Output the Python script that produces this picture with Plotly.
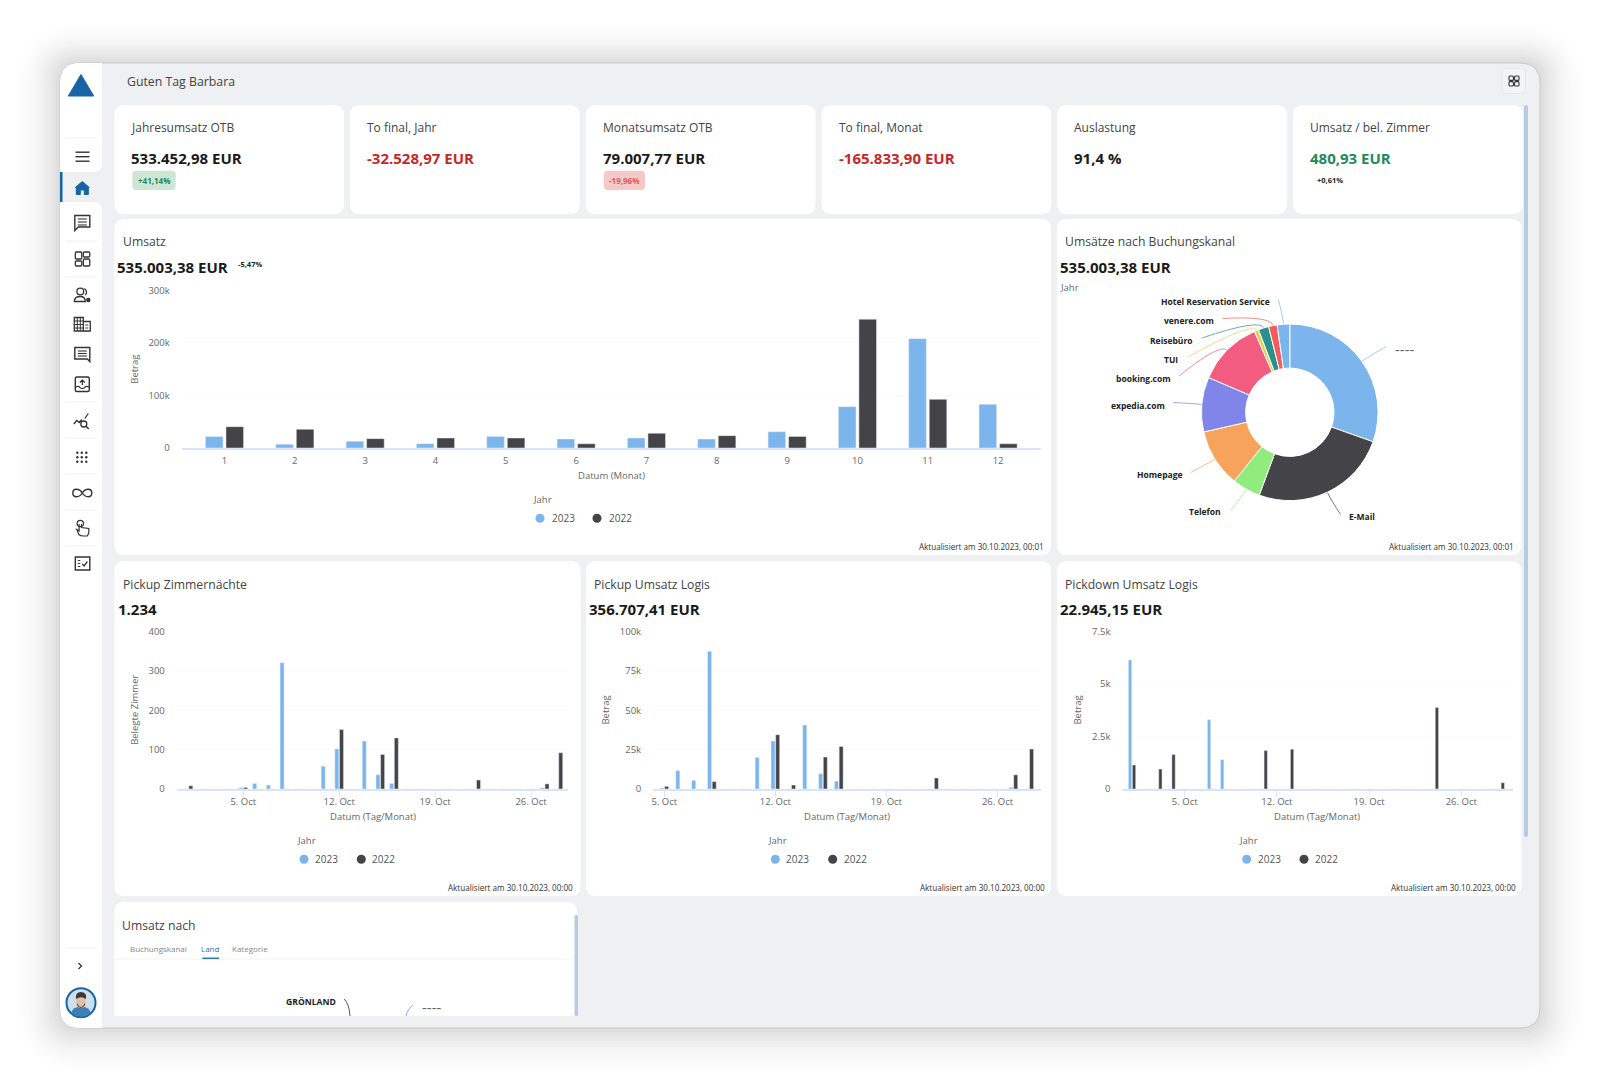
import math

import plotly.graph_objects as go

# KPI cards
kpi_titles = ["Jahresumsatz OTB", "To final, Jahr", "Monatsumsatz OTB", "To final, Monat", "Auslastung", "Umsatz / bel. Zimmer"]
kpi_values = ["533.452,98 EUR", "-32.528,97 EUR", "79.007,77 EUR", "-165.833,90 EUR", "91,4 %", "480,93 EUR"]
kpi_colors = ["#1a1a1a", "#c62828", "#1a1a1a", "#c62828", "#1a1a1a", "#1e8a5a"]

# Umsatz per month
months = [1, 2, 3, 4, 5, 6, 7, 8, 9, 10, 11, 12]
umsatz_2023 = [22000, 7000, 12700, 8000, 22000, 17000, 19000, 17000, 31000, 78600, 208000, 83000]
umsatz_2022 = [40600, 35500, 17800, 19000, 19000, 8000, 28000, 23500, 22000, 245000, 92600, 8000]

# pickup / pickdown per day of October
days = list(range(1, 32))
zimmer_2023 = [0, 0, 0, 0, 3, 14, 10, 321, 0, 0, 58, 102, 0, 122, 36, 14, 0, 0, 0, 0, 0, 0, 0, 0, 0, 0, 3, 0, 0, 0, 0]
zimmer_2022 = [8, 0, 0, 0, 4, 0, 0, 0, 0, 0, 0, 151, 0, 0, 88, 130, 0, 0, 0, 0, 0, 23, 0, 0, 0, 0, 13, 92, 0, 0, 0]
logis_2023 = [0, 0, 0, 0, 600, 11700, 5500, 87500, 0, 0, 20000, 30500, 0, 40700, 9700, 5000, 0, 0, 0, 0, 0, 0, 0, 0, 0, 0, 1000, 0, 0, 0, 0]
logis_2022 = [0, 0, 0, 0, 1700, 0, 0, 4700, 0, 0, 0, 34500, 2500, 0, 20300, 27000, 0, 0, 0, 0, 0, 7000, 0, 0, 0, 0, 9000, 25400, 0, 0, 0]
pickdown_2023 = [6150, 0, 0, 0, 0, 0, 3300, 1400, 0, 0, 0, 0, 0, 0, 0, 0, 0, 0, 0, 0, 0, 0, 0, 0, 0, 0, 0, 0, 0, 0, 0]
pickdown_2022 = [1150, 0, 950, 1640, 0, 0, 0, 0, 0, 0, 1830, 0, 1900, 0, 0, 0, 0, 0, 0, 0, 0, 0, 0, 3880, 0, 0, 0, 0, 300, 0, 0]

date_ticks = [5, 12, 19, 26]
date_labels = ["5. Oct", "12. Oct", "19. Oct", "26. Oct"]

# Buchungskanal donut
channels = ["----", "E-Mail", "Telefon", "Homepage", "expedia.com", "booking.com", "TUI", "Reisebüro", "venere.com", "Hotel Reservation Service"]
channel_values = [162600, 134800, 27800, 56700, 53500, 64200, 4300, 10200, 8300, 12300]
channel_colors = ["#7cb5ec", "#434348", "#90ed7d", "#f7a35c", "#8085e9", "#f15c80", "#e4d354", "#2b908f", "#f45b5b", "#7cb5ec"]

BLUE = "#7cb5ec"
DARK = "#434348"
BG = "#eef0f2"
ICON = "#333338"
FONT = "Open Sans"

fig = go.Figure()
shapes = []
notes = []


def rrect(x0, y0, x1, y1, r):
    return (f"M{x0 + r},{y0} L{x1 - r},{y0} Q{x1},{y0} {x1},{y0 + r} L{x1},{y1 - r} Q{x1},{y1} {x1 - r},{y1} "
            f"L{x0 + r},{y1} Q{x0},{y1} {x0},{y1 - r} L{x0},{y0 + r} Q{x0},{y0} {x0 + r},{y0} Z")


def add_path(path, fill=None, line=None, width=1.2, opacity=1):
    shapes.append(dict(type="path", path=path, xref="x", yref="y", layer="below", opacity=opacity,
                       fillcolor=fill or "rgba(0,0,0,0)",
                       line=dict(color=line or "rgba(0,0,0,0)", width=width if line else 0)))


def add_circle(cx, cy, r, fill=None, line=None, width=1.2):
    shapes.append(dict(type="circle", x0=cx - r, x1=cx + r, y0=cy - r, y1=cy + r, xref="x", yref="y", layer="below",
                       fillcolor=fill or "rgba(0,0,0,0)",
                       line=dict(color=line or "rgba(0,0,0,0)", width=width if line else 0)))


def add_text(x, y, text, size=10, color="#444", anchor="left", bold=False, angle=0):
    if bold:
        text = f"<b>{text}</b>"
    # annotation boxes keep a small inner gap, pull the text back onto the measured spot
    if anchor == "left":
        x -= 1.2
    elif anchor == "right":
        x += 1.5
    notes.append(dict(x=x, y=y, xref="x", yref="y", text=text, showarrow=False, xanchor=anchor, yanchor="middle",
                      textangle=angle, borderpad=0, font=dict(family=FONT, size=size, color=color)))


# shadow and device frame
for off in range(46, 0, -3):
    alpha = 0.016 * (1 - off / 50)
    add_path(rrect(60 - off, 63 - off * 0.9, 1540 + off, 1028 + off, 20 + off), fill=f"rgba(0,0,0,{alpha:.4f})")
add_path(rrect(60, 63, 1540, 1028, 20), fill=BG, line="#c9c9c9", width=1)

# sidebar
add_path("M80,63 L102,63 L102,164 Q102,172 94,172 L60,172 L60,83 Q60,63 80,63 Z", fill="white")
add_path("M60,202 L94,202 Q102,202 102,210 L102,1028 L80,1028 Q60,1028 60,1008 Z", fill="white")
add_path("M60,172 L62.5,172 L62.5,202 L60,202 Z", fill="#1565a6")
add_path("M81,74.5 L93.7,96 L68.3,96 Z", fill="#1565a6", line="#1565a6", width=1)
for sep_y in [138, 241, 277, 402, 438, 474, 510, 546, 948]:
    add_path(f"M65,{sep_y} L97,{sep_y}", line="#f1f1f1", width=1)

ix = 82.3
# hamburger
for dy in [-4.5, 0, 4.5]:
    add_path(f"M75.5,{156.7 + dy} L89.5,{156.7 + dy}", line=ICON, width=1.4)
# home
add_path(f"M{ix},181.5 L{ix + 7},187.5 L{ix + 6},187.5 L{ix + 6},194.5 L{ix + 2},194.5 L{ix + 2},190 L{ix - 2},190 L{ix - 2},194.5 "
         f"L{ix - 6},194.5 L{ix - 6},187.5 L{ix - 7},187.5 Z", fill="#1565a6", line="#1565a6", width=1)
# comment
add_path(f"M{ix - 7.5},215.5 L{ix + 7.5},215.5 L{ix + 7.5},227 L{ix - 4},227 L{ix - 7.5},230.5 Z", line=ICON, width=1.4)
for dy in [219, 222, 225]:
    add_path(f"M{ix - 4.5},{dy} L{ix + 4.5},{dy}", line=ICON, width=1.1)
# dashboard grid
for gx, gy, gh in [(-7, 252, 7), (1, 252, 5), (-7, 261, 5), (1, 259, 7)]:
    add_path(rrect(ix + gx, gy, ix + gx + 6.5, gy + gh, 1.2), line=ICON, width=1.3)
# people
add_circle(ix - 2, 291.5, 3.4, line=ICON, width=1.3)
add_path(f"M{ix - 8},301.5 Q{ix - 8},296.5 {ix - 2},296.5 Q{ix + 3},296.5 {ix + 3},301.5 Z", line=ICON, width=1.3)
add_path(f"M{ix + 2},288.5 Q{ix + 6},291.5 {ix + 3},295", line=ICON, width=1.3)
add_circle(ix + 6, 300, 2.2, fill=ICON)
# building
add_path(f"M{ix - 8},317.5 L{ix + 1},317.5 L{ix + 1},331 L{ix - 8},331 Z", line=ICON, width=1.3)
add_path(f"M{ix + 1},321.5 L{ix + 8},321.5 L{ix + 8},331 L{ix + 1},331", line=ICON, width=1.3)
for dy in [321, 324.5, 328]:
    add_path(f"M{ix - 8},{dy} L{ix + 1},{dy}", line=ICON, width=1)
add_path(f"M{ix - 5},317.5 L{ix - 5},331 M{ix - 2},317.5 L{ix - 2},331", line=ICON, width=1)
add_path(f"M{ix + 3},325 L{ix + 6},325 M{ix + 3},328 L{ix + 6},328", line=ICON, width=1)
# message
add_path(f"M{ix - 7.5},347.5 L{ix + 7.5},347.5 L{ix + 7.5},361.5 L{ix + 5},359 L{ix - 7.5},359 Z", line=ICON, width=1.4)
for dy in [351, 353.5, 356]:
    add_path(f"M{ix - 4.5},{dy} L{ix + 4.5},{dy}", line=ICON, width=1.1)
# upload
add_path(rrect(ix - 7, 377, ix + 7, 391.5, 1.5), line=ICON, width=1.4)
add_path(f"M{ix - 7},387 Q{ix - 3},385.5 {ix - 2.5},387.5 Q{ix},389.5 {ix + 2.5},387.5 Q{ix + 3},385.5 {ix + 7},387", line=ICON, width=1.1)
add_path(f"M{ix},385 L{ix},380 M{ix - 2.5},382.5 L{ix},380 L{ix + 2.5},382.5", line=ICON, width=1.2)
# chart search
add_path(f"M{ix - 8.5},424 L{ix - 5.5},420.5 L{ix - 3},422.5 L{ix - 0.5},419.5", line=ICON, width=1.3)
add_path(f"M{ix + 2.5},418.5 L{ix + 6},413.5", line=ICON, width=1.3)
add_circle(ix + 1.5, 424, 3, line=ICON, width=1.3)
add_path(f"M{ix + 3.8},426.3 L{ix + 6.5},429", line=ICON, width=1.4)
# dots
for dx in [-4.5, 0, 4.5]:
    for dy in [-4.5, 0, 4.5]:
        add_circle(ix + dx - 0.5, 457.3 + dy, 1.2, fill=ICON)
# infinity
add_path(f"M{ix},493 C{ix - 3},488 {ix - 9.5},488 {ix - 9.5},493 C{ix - 9.5},498 {ix - 3},498 {ix},493 "
         f"C{ix + 3},488 {ix + 9.5},488 {ix + 9.5},493 C{ix + 9.5},498 {ix + 3},498 {ix},493 Z", line=ICON, width=1.4)
# touch
add_circle(ix - 2, 523.5, 3.2, line=ICON, width=1.2)
add_path(f"M{ix - 3.2},524 L{ix - 3.2},531 L{ix - 5.5},529.5 L{ix - 3.5},534.5 Q{ix - 2},536 {ix + 1},536 L{ix + 5},536 L{ix + 6.5},533 "
         f"L{ix + 6.5},528.5 L{ix - 0.8},527.5 L{ix - 0.8},524", line=ICON, width=1.2)
# checklist
add_path(f"M{ix - 7},557 L{ix + 7.5},557 L{ix + 7.5},570 L{ix - 7},570 Z", line=ICON, width=1.4)
add_path(f"M{ix - 4.5},560.5 L{ix - 2},560.5 M{ix - 4.5},563.5 L{ix - 2},563.5 M{ix - 4.5},566.5 L{ix - 2},566.5", line=ICON, width=1.1)
add_path(f"M{ix},564 L{ix + 1.8},566 L{ix + 5},561.5", line=ICON, width=1.3)
# chevron
add_path("M78.5,963 L81.5,966 L78.5,969", line=ICON, width=1.3)
# avatar
add_circle(81, 1002.7, 14.5, fill="#cfe0ec", line="#1565a6", width=2)
add_path("M71,1013 Q73,1006.5 81,1006.5 Q89,1006.5 91,1013 Q86,1016.5 81,1016.5 Q76,1016.5 71,1013 Z", fill="#3f7fb5")
add_path(rrect(76.5, 994, 85.5, 1008, 4), fill="#e3bfa3")
add_path("M76,999 Q75,992 81,992 Q87,992 86,999 Q81,995.5 76,999 Z", fill="#3a3a3a")
add_path("M77,1003 Q81,1011 85,1003 L85,1005 Q81,1011 77,1005 Z", fill="#3a3a3a")

# header
add_text(127.3, 81, "Guten Tag Barbara", size=12.3, color="#444")
add_path(rrect(1502, 68.5, 1525.5, 93.5, 5), fill="#f3f4f6", line="#e3e4e7", width=0.8)
for gx, gy in [(-5, -5), (0.6, -5), (-5, 0.6), (0.6, 0.6)]:
    add_path(rrect(1514 + gx, 81 + gy, 1514 + gx + 4.4, 81 + gy + 4.4, 1), line=ICON, width=1.1)
add_path(rrect(1524, 105, 1528, 837, 2), fill="#b7cbe2")

# KPI cards
for i in range(6):
    x0 = 114.3 + i * 235.75
    add_path(rrect(x0, 105, x0 + 229.7, 214, 10), fill="white")
    add_text(x0 + 17.3, 127.6, kpi_titles[i], size=12, color="#444")
    add_text(x0 + 17.3, 158.2, kpi_values[i], size=15, color=kpi_colors[i], bold=True)
add_path(rrect(132.3, 170.7, 175.7, 190, 4), fill="#cfe6d4")
add_text(154, 180, "+41,14%", size=8, color="#1e8a5a", anchor="center", bold=True)
add_path(rrect(603.8, 170.7, 645, 190, 4), fill="#f6c9c9")
add_text(624.4, 180, "-19,96%", size=8, color="#dd5a5a", anchor="center", bold=True)
add_text(1329.6, 179.6, "+0,61%", size=7.5, color="#222", anchor="center", bold=True)

# big cards
cards = [(114.3, 219, 1051, 555), (1057, 219, 1521.4, 555), (114.3, 561, 580.5, 896),
         (586, 561, 1051, 896), (1057, 561, 1521.4, 896)]
for c in cards:
    add_path(rrect(c[0], c[1], c[2], c[3], 10), fill="white")

add_text(123, 241.5, "Umsatz", size=12.2, color="#444")
add_text(117, 267, "535.003,38 EUR", size=15, color="#1a1a1a", bold=True)
add_text(238, 264, "-5,47%", size=7.5, color="#222", bold=True)
add_text(1065.3, 241.5, "Umsätze nach Buchungskanal", size=12.2, color="#444")
add_text(1060, 267, "535.003,38 EUR", size=15, color="#1a1a1a", bold=True)
add_text(1059.7, 287.7, "Jahr", size=9.5, color="#666")
add_text(1043, 546, "Aktualisiert am 30.10.2023, 00:01", size=8.1, color="#333", anchor="right")
add_text(1513, 546, "Aktualisiert am 30.10.2023, 00:01", size=8.1, color="#333", anchor="right")

# bar charts, geometry in pixels of the page
charts = [
    dict(x=months, a=umsatz_2023, b=umsatz_2022, left=181.6, right=1041, top=290.3, bottom=448,
         xr=[0.39, 12.61], ymax=300000, yt=[0, 100000, 200000, 300000], yl=["0", "100k", "200k", "300k"],
         xt=months, xl=[str(m) for m in months], w=0.25, off=0.146, ticklen=0, standoff=-1,
         ytitle="Betrag", ytx=134.6, xtitle="Datum (Monat)", xtx=611, xty=475.7,
         legend=(542.5, 499, 540, 563, 597, 620, 518.3)),
    dict(x=days, a=zimmer_2023, b=zimmer_2022, left=176.7, right=568, top=631.7, bottom=789,
         xr=[0.14, 28.7], ymax=400, yt=[0, 100, 200, 300, 400], yl=["0", "100", "200", "300", "400"],
         xt=date_ticks, xl=date_labels, w=0.292, off=0.17, ticklen=6, standoff=-3,
         ytitle="Belegte Zimmer", ytx=135, xtitle="Datum (Tag/Monat)", xtx=373, xty=816.7,
         legend=(306, 840, 304, 326.7, 361.3, 383.3, 859.3)),
    dict(x=days, a=logis_2023, b=logis_2022, left=653, right=1041, top=631.7, bottom=789,
         xr=[4.29, 28.74], ymax=100000, yt=[0, 25000, 50000, 75000, 100000], yl=["0", "25k", "50k", "75k", "100k"],
         xt=date_ticks, xl=date_labels, w=0.252, off=0.147, ticklen=6, standoff=-3,
         ytitle="Betrag", ytx=605.7, xtitle="Datum (Tag/Monat)", xtx=846.7, xty=816.7,
         legend=(777.3, 840, 775.3, 797.7, 832.7, 855, 859.3)),
    dict(x=days, a=pickdown_2023, b=pickdown_2022, left=1122.3, right=1513, top=631.7, bottom=789,
         xr=[0.26, 29.93], ymax=7500, yt=[0, 2500, 5000, 7500], yl=["0", "2.5k", "5k", "7.5k"],
         xt=date_ticks, xl=date_labels, w=0.25, off=0.152, ticklen=6, standoff=-3,
         ytitle="Betrag", ytx=1077.7, xtitle="Datum (Tag/Monat)", xtx=1316.7, xty=816.7,
         legend=(1248.3, 840, 1246.7, 1269.3, 1304, 1326.3, 859.3)),
]

axes = {}
for n, ch in enumerate(charts, start=2):
    xname, yname = f"x{n}", f"y{n}"
    fig.add_trace(go.Bar(x=ch["x"], y=ch["a"], name="2023", marker_color=BLUE, width=ch["w"],
                         offset=-ch["off"] - ch["w"] / 2, xaxis=xname, yaxis=yname, showlegend=False))
    fig.add_trace(go.Bar(x=ch["x"], y=ch["b"], name="2022", marker_color=DARK, width=ch["w"],
                         offset=ch["off"] - ch["w"] / 2, xaxis=xname, yaxis=yname, showlegend=False))
    axes[f"xaxis{n}"] = dict(domain=[ch["left"] / 1600, ch["right"] / 1600], range=ch["xr"], anchor=yname,
                             tickmode="array", tickvals=ch["xt"], ticktext=ch["xl"], showgrid=False, zeroline=False,
                             showline=True, linecolor="#d9e4f6", linewidth=1.5, ticks="outside",
                             ticklen=ch["ticklen"] if ch["ticklen"] else 4,
                             tickcolor="#d9e4f6" if ch["ticklen"] else "rgba(0,0,0,0)",
                             ticklabelstandoff=ch["standoff"],
                             tickfont=dict(family=FONT, size=9.5, color="#666"), fixedrange=True)
    axes[f"yaxis{n}"] = dict(domain=[1 - ch["bottom"] / 1091, 1 - ch["top"] / 1091], range=[0, ch["ymax"]], anchor=xname,
                             tickmode="array", tickvals=ch["yt"], ticktext=ch["yl"], showgrid=True, gridcolor="#fbfbfb",
                             zeroline=False, showline=False, ticks="outside", ticklen=9, tickcolor="rgba(0,0,0,0)",
                             tickfont=dict(family=FONT, size=9.5, color="#666"), fixedrange=True)
    add_text(ch["ytx"], (ch["top"] + ch["bottom"]) / 2 + (0 if n == 2 else -0.5), ch["ytitle"], size=9.5, color="#666",
             anchor="center", angle=-90)
    add_text(ch["xtx"], ch["xty"], ch["xtitle"], size=9.5, color="#666", anchor="center")
    jx, jy, c1, t1, c2, t2, ly = ch["legend"]
    add_text(jx, jy, "Jahr", size=9.5, color="#666", anchor="center")
    add_circle(c1, ly, 4.5, fill=BLUE)
    add_circle(c2, ly, 4.5, fill=DARK)
    add_text(t1, ly, "2023", size=10, color="#555", anchor="center")
    add_text(t2, ly, "2022", size=10, color="#555", anchor="center")

for tx, vx, title, value, rx in [(122.7, 117.7, "Pickup Zimmernächte", "1.234", 572.5),
                                 (594, 588.7, "Pickup Umsatz Logis", "356.707,41 EUR", 1044),
                                 (1065.3, 1060, "Pickdown Umsatz Logis", "22.945,15 EUR", 1515)]:
    add_text(tx, 584, title, size=12.2, color="#444")
    add_text(vx, 609.3, value, size=15, color="#1a1a1a", bold=True)
    add_text(rx, 887, "Aktualisiert am 30.10.2023, 00:00", size=8.1, color="#333", anchor="right")

# donut, centre and radius in page pixels
cx, cy, radius = 1289.8, 412.3, 88.3
fig.add_trace(go.Pie(labels=channels, values=channel_values, hole=0.5, sort=False, direction="clockwise", rotation=0,
                     textinfo="none", showlegend=False, marker=dict(colors=channel_colors, line=dict(color="white", width=1)),
                     domain=dict(x=[(cx - radius) / 1600, (cx + radius) / 1600],
                                 y=[1 - (cy + radius) / 1091, 1 - (cy - radius) / 1091])))

# leader lines run from the slice middle to the label
label_ends = [(1386, 346.7), (1340.7, 514.5), (1230.7, 510.5), (1190.7, 472.5), (1173.3, 402.5),
              (1179, 376), (1187.7, 357), (1201.7, 338), (1222.7, 318.5), (1278.3, 299.7)]
label_text = [(1404, 349, "center"), (1349.5, 516.7, "left"), (1220.3, 511.7, "right"), (1181, 474.3, "right"),
              (1164.3, 405, "right"), (1170.7, 378.3, "right"), (1177.7, 359, "right"), (1192.3, 340, "right"),
              (1213.3, 320.7, "right"), (1269.3, 301.3, "right")]
total = sum(channel_values)
run = 0
for i, name in enumerate(channels):
    mid = (run + channel_values[i] / 2) / total * 2 * math.pi
    run += channel_values[i]
    sx, sy = cx + radius * math.sin(mid), cy - radius * math.cos(mid)
    qx, qy = cx + (radius + 10) * math.sin(mid), cy - (radius + 10) * math.cos(mid)
    ex, ey = label_ends[i]
    add_path(f"M{sx:.1f},{sy:.1f} Q{qx:.1f},{qy:.1f} {ex},{ey}", line=channel_colors[i], width=1, opacity=0.7)
    if name == "----":
        add_text(label_text[i][0], label_text[i][1], name, size=15, color="#666", anchor="center")
    else:
        add_text(label_text[i][0], label_text[i][1], name, size=8.5, color="#222", anchor=label_text[i][2], bold=True)

# cut off card at the bottom
add_path("M114.3,1016 L114.3,912 Q114.3,902 124.3,902 L567,902 Q577,902 577,912 L577,1016 Z", fill="white")
add_path(rrect(574.5, 915, 578, 1016, 1.5), fill="#b7cbe2")
add_text(122.6, 925, "Umsatz nach", size=12.2, color="#444")
add_text(129.7, 948.3, "Buchungskanal", size=8, color="#888")
add_text(201, 948.3, "Land", size=8, color="#2a7ab5")
add_text(232.5, 948.3, "Kategorie", size=8, color="#888")
add_path("M114.3,959 L574,959", line="#f2f2f2", width=1)
add_path("M202.4,958.3 L219,958.3", line="#2a7ab5", width=1.6)
add_text(310.6, 1001.7, "GRÖNLAND", size=8.6, color="#222", anchor="center", bold=True)
add_path("M344,999 Q349,1003 350,1016", line="#555", width=1)
add_text(431, 1007, "----", size=15, color="#666", anchor="center")
add_path("M412.7,1005.7 Q408,1008 406,1016", line=BLUE, width=1)

# hidden page axis that carries all the shapes and texts
fig.add_trace(go.Scatter(x=[0], y=[0], mode="markers", marker=dict(opacity=0), hoverinfo="skip", showlegend=False))

fig.update_layout(
    width=1600, height=1091, margin=dict(l=0, r=0, t=0, b=0, autoexpand=False),
    paper_bgcolor="white", plot_bgcolor="rgba(0,0,0,0)", barmode="overlay",
    font=dict(family=FONT), shapes=shapes, annotations=notes, showlegend=False,
    xaxis=dict(domain=[0, 1], range=[0, 1600], visible=False, fixedrange=True),
    yaxis=dict(domain=[0, 1], range=[1091, 0], visible=False, fixedrange=True),
    **axes,
)

fig.write_html("out.html", config=dict(displayModeBar=False), post_script="document.body.style.margin='0';")
